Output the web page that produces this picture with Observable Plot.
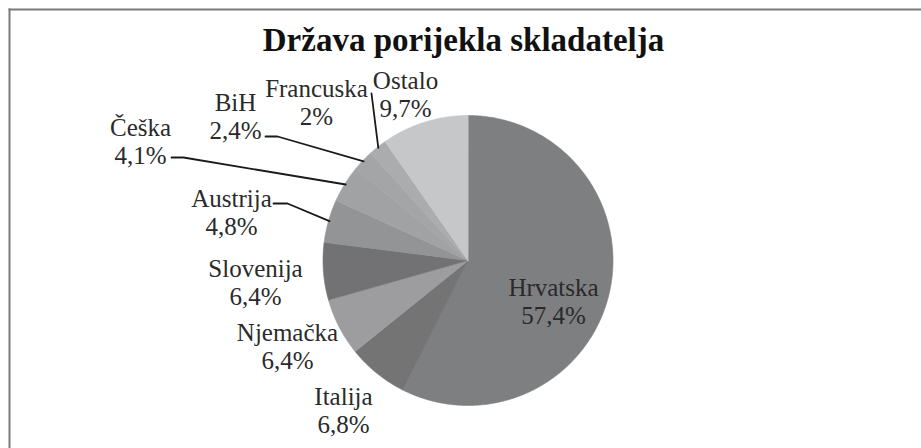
<!DOCTYPE html>
<html>
<head>
<meta charset="utf-8">
<script src="https://cdn.jsdelivr.net/npm/d3@7"></script>
<script src="https://cdn.jsdelivr.net/npm/@observablehq/plot@0.6"></script>
<style>
  html, body { margin: 0; padding: 0; background: #fff; }
  #chart svg { display: block; }
</style>
</head>
<body>
<div id="chart"></div>
<script>
// ---- data ----
const title = "Država porijekla skladatelja";
const categories = ["Hrvatska", "Italija", "Njemačka", "Slovenija", "Austrija", "Češka", "BiH", "Francuska", "Ostalo"];
const shares = [57.4, 6.8, 6.4, 6.4, 4.8, 4.1, 2.4, 2, 9.7];
const shareLabels = ["57,4%", "6,8%", "6,4%", "6,4%", "4,8%", "4,1%", "2,4%", "2%", "9,7%"];

// ---- styles / layout ----
const FONT = "'Liberation Serif', 'DejaVu Serif', serif";
const sliceColors = ["#7e7f81", "#747475", "#9d9d9f", "#727274", "#939496", "#a1a2a4", "#a4a5a7", "#abacae", "#c6c7c9"];
const W = 921, H = 448;
const CX = 467.5, CY = 260, R = 145;
const labelPos = [[553, 301], [343, 410], [287, 346], [255, 282], [231, 212], [140, 141], [235, 116], [316, 102], [405, 94]];
const leaderStarts = {
  "Austrija": [[273, 203], [287, 203]],
  "Češka": [[171, 157], [183, 157]],
  "BiH": [[265, 136], [277, 136]],
  "Francuska": [[371, 93]]
};

// ---- derived ----
const table = categories.map((name, i) => ({name, share: shares[i], label: shareLabels[i]}));
const arcs = d3.pie().sort(null).value(d => d.share).startAngle(0).endAngle(2 * Math.PI)(table);

const polyPoints = [];
for (const a of arcs) {
  polyPoints.push({name: a.data.name, x: CX, y: CY});
  const n = Math.max(8, Math.ceil((a.endAngle - a.startAngle) / 0.01));
  for (let k = 0; k <= n; k++) {
    const t = a.startAngle + (a.endAngle - a.startAngle) * k / n;
    polyPoints.push({name: a.data.name, x: CX + R * Math.sin(t), y: CY - R * Math.cos(t)});
  }
}

const labels = arcs.map((a, i) => ({
  text: a.data.name + "\n" + a.data.label,
  x: labelPos[i][0], y: labelPos[i][1]
}));

const leaders = [];
for (const a of arcs) {
  const starts = leaderStarts[a.data.name];
  if (!starts) continue;
  const mid = (a.startAngle + a.endAngle) / 2;
  starts.forEach(p => leaders.push({name: a.data.name, x: p[0], y: p[1]}));
  leaders.push({name: a.data.name, x: CX + (R - 1) * Math.sin(mid), y: CY - (R - 1) * Math.cos(mid)});
}

const chart = Plot.plot({
  width: W,
  height: H,
  marginTop: 9,
  marginLeft: 9,
  marginRight: 0,
  marginBottom: 0,
  style: "font-family: 'Liberation Serif', serif; background: #fff;",
  x: {domain: [9, W], range: [9, W], axis: null},
  y: {domain: [9, H], range: [9, H], axis: null},
  color: {domain: categories, range: sliceColors},
  marks: [
    Plot.frame({anchor: "top", stroke: "#7a7a7a", strokeWidth: 2}),
    Plot.frame({anchor: "left", stroke: "#7a7a7a", strokeWidth: 2}),
    Plot.line(polyPoints, {x: "x", y: "y", z: "name", fill: "name", stroke: "name", strokeWidth: 0.6, curve: "linear-closed"}),
    Plot.line(leaders, {x: "x", y: "y", z: "name", stroke: "#1a1a1a", strokeWidth: 1.8, curve: "linear"}),
    Plot.text(labels, {x: "x", y: "y", text: "text", fontSize: 25, fontFamily: FONT, lineHeight: 1.12, fill: "#2a2a2a", textAnchor: "middle"}),
    Plot.text([title], {frameAnchor: "top", dx: -2, dy: 18, lineAnchor: "top", fontSize: 33, fontFamily: FONT, fontWeight: "bold", fill: "#111"})
  ]
});

document.getElementById("chart").appendChild(chart);
</script>
</body>
</html>
